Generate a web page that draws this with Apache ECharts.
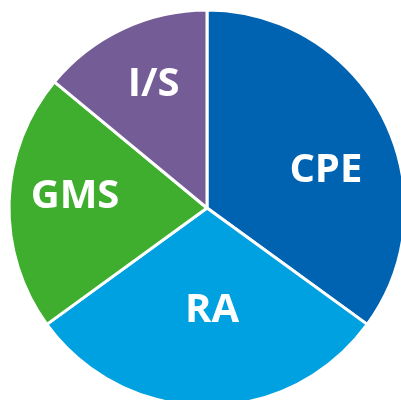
<!DOCTYPE html>
<html>
<head>
<meta charset="utf-8">
<script src="https://cdn.jsdelivr.net/npm/echarts@6/dist/echarts.min.js"></script>
</head>
<body style="margin: 0; background: #fff">
<div id="main" style="width: 401px; height: 400px"></div>
<script type="text/javascript">
var categories = ['CPE', 'RA', 'GMS', 'I/S'];
var values = [35, 30, 21, 14];
var colors = ['#0063b1', '#00a1e0', '#3fae2f', '#745c96'];
// label nudges from the default "inside" spot
var labelOffsets = [[28, 9], [5, 1], [-30, -8], [-10, -31]];

var chart = echarts.init(document.getElementById('main'));
var option = {
    animation: false,
    series: [{
        type: 'pie',
        center: [207, 208],
        radius: 198,
        startAngle: 90,
        clockwise: true,
        silent: true,
        data: categories.map(function (name, i) {
            return {
                name: name,
                value: values[i],
                itemStyle: { color: colors[i] },
                label: { offset: labelOffsets[i] }
            };
        }),
        itemStyle: {
            borderColor: '#fff',
            borderWidth: 3
        },
        label: {
            show: true,
            position: 'inside',
            formatter: '{b}',
            color: '#fff',
            fontFamily: 'Open Sans',
            fontWeight: 'bold',
            fontSize: 40
        },
        labelLine: { show: false }
    }]
};
chart.setOption(option);
</script>
</body>
</html>
